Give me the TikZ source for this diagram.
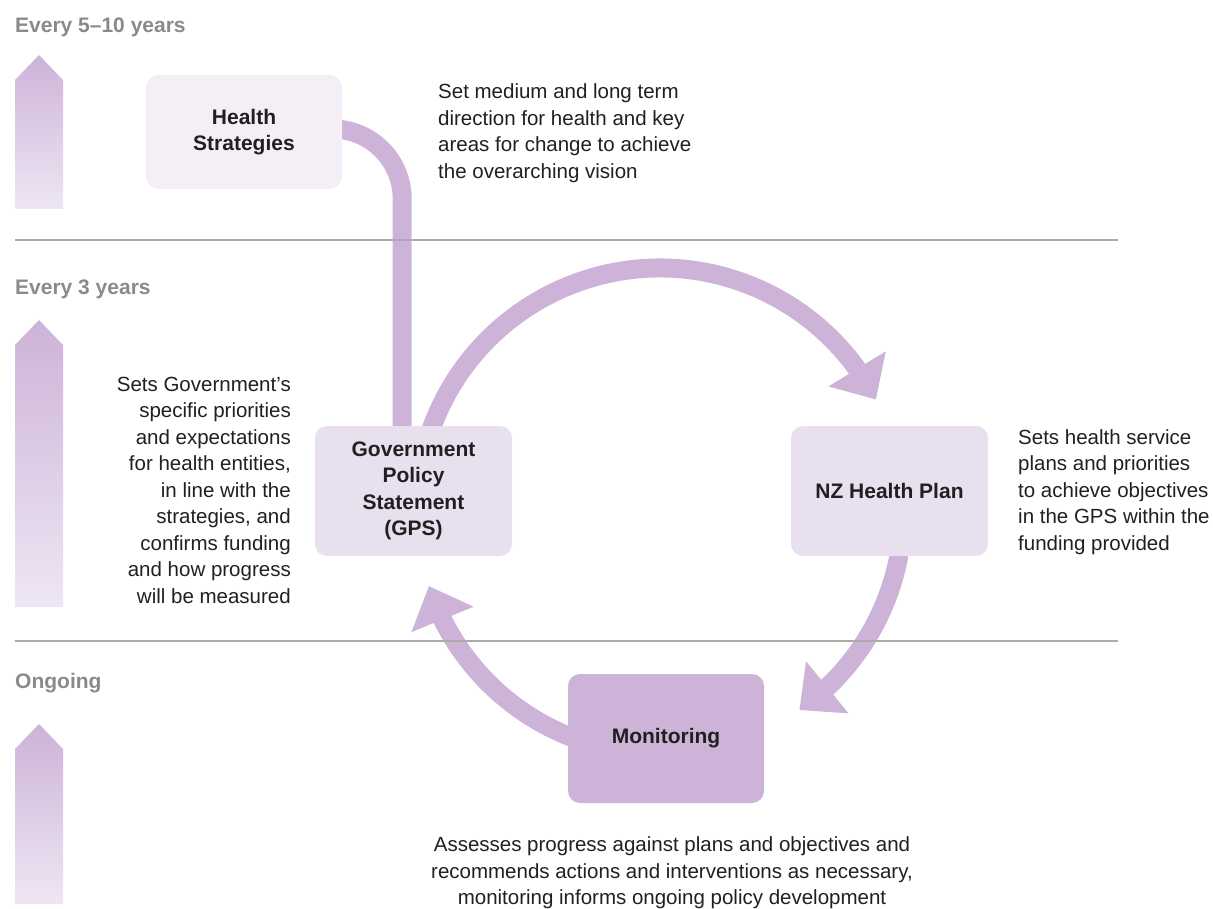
\documentclass[tikz,border=0pt]{standalone}
\usepackage{fontspec}
\setmainfont{Liberation Sans}
\usetikzlibrary{arrows.meta,bending,backgrounds}
\definecolor{lilac}{HTML}{CDB3D8}
\definecolor{lilacpale}{HTML}{E8DFEF}
\definecolor{lilacfaint}{HTML}{F4EFF7}
\definecolor{lilacfade}{HTML}{EEE6F4}
\definecolor{periodgrey}{HTML}{8A8A8A}
\definecolor{rulegrey}{HTML}{ABABAB}
\definecolor{ink}{HTML}{231F20}
\newcommand{\flowtip}{-{Triangle[width=65pt,length=36pt]}}

\begin{document}
\begin{tikzpicture}[x=1pt,y=-1pt,
  box/.style={rounded corners=12pt,inner sep=0pt,align=center,text=ink,
    font=\fontsize{21}{26.5}\selectfont\bfseries},
  note/.style={inner sep=0pt,text=ink,font=\fontsize{20.5}{26.5}\selectfont},
  period/.style={anchor=base west,inner sep=0pt,text=periodgrey,
    font=\fontsize{21}{26}\selectfont\bfseries},
  flow/.style={draw=lilac,line width=19pt},
  rule/.style={draw=rulegrey,line width=1.2pt}]
\useasboundingbox (0,0) rectangle (1213,909);

%time scales
\node[period] (slow) at (15,33) {Every 5–10 years};
\node[period] (mid) at (15,295) {Every 3 years};
\node[period] (cont) at (15,688) {Ongoing};
\foreach \tip/\foot in {55/209,320/607,724/904}
  \shade[top color=lilac,bottom color=lilacfade] (15,\foot) -- (15,\tip+25)
    -- (39,\tip) -- (63,\tip+25) -- (63,\foot) -- cycle;
\draw[rule] (15,240) -- (1118,240);
\draw[rule] (15,641) -- (1118,641);

%boxes
\node[box,fill=lilacfaint,minimum width=196pt,minimum height=114pt] (hs) at (244,132) {Health\\Strategies};
\node[box,fill=lilacpale,minimum width=197pt,minimum height=130pt] (gps) at (413.5,491) {Government\\Policy\\Statement\\(GPS)};
\node[box,fill=lilacpale,minimum width=197pt,minimum height=130pt] (nzp) at (889.5,491) {NZ Health Plan};
\node[box,fill=lilac,minimum width=196pt,minimum height=129pt] (mon) at (666,738.5) {Monitoring};

%notes
\node[note,anchor=west,align=left] (hsnote) at (438,133) {Set medium and long term\\direction for health and key\\areas for change to achieve\\the overarching vision};
\node[note,anchor=east,align=right] (gpsnote) at (291,490) {Sets Government’s\\specific priorities\\and expectations\\for health entities,\\in line with the\\strategies, and\\confirms funding\\and how progress\\will be measured};
\node[note,anchor=west,align=left] (nzpnote) at (1018,492) {Sets health service\\plans and priorities\\to achieve objectives\\in the GPS within the\\funding provided};
\node[note,align=center] (monnote) at (672,873) {Assesses progress against plans and objectives and\\recommends actions and interventions as necessary,\\monitoring informs ongoing policy development};

%cycle
\coordinate (hub) at (660,511);
\begin{scope}[on background layer]
\draw[flow] ([shift={(-10,-3)}]hs.east) arc[start angle=90,end angle=0,radius=70pt]
  coordinate (drop) -- (drop |- gps.north);
\draw[flow,\flowtip] ([shift={(161:243pt)}]hub) arc[start angle=161,end angle=27.3,radius=243pt];
\draw[flow,\flowtip] ([shift={(-8:243pt)}]hub) arc[start angle=-8,end angle=-55,radius=243pt];
\draw[flow,\flowtip] ([shift={(250:243pt)}]hub) arc[start angle=250,end angle=198,radius=243pt];
\end{scope}
\end{tikzpicture}
\end{document}
